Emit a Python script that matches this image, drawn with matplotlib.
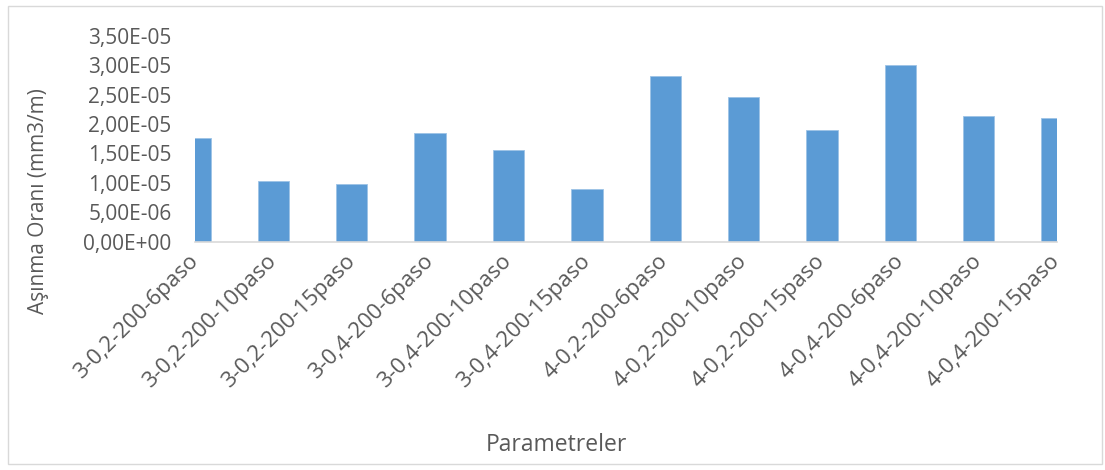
import numpy as np
import matplotlib.pyplot as plt
from matplotlib.ticker import FuncFormatter
from matplotlib.patches import Rectangle

plt.rcParams['font.family'] = ['Open Sans', 'DejaVu Sans']

categories = [
    "3-0,2-200-6paso", "3-0,2-200-10paso", "3-0,2-200-15paso",
    "3-0,4-200-6paso", "3-0,4-200-10paso", "3-0,4-200-15paso",
    "4-0,2-200-6paso", "4-0,2-200-10paso", "4-0,2-200-15paso",
    "4-0,4-200-6paso", "4-0,4-200-10paso", "4-0,4-200-15paso",
]
wear_rate = [1.77e-05, 1.03e-05, 0.98e-05, 1.84e-05, 1.56e-05, 0.90e-05,
             2.82e-05, 2.455e-05, 1.90e-05, 3.00e-05, 2.13e-05, 2.10e-05]
y_ticks = np.arange(0, 3.51e-05, 5e-06)

text_color = "#595959"
bar_color = "#5B9BD5"

fig = plt.figure(figsize=(11.05, 4.70), dpi=100)
ax = fig.add_axes([0.1765, 0.4857, 0.9566 - 0.1765, 0.924 - 0.4857])

x = np.arange(len(categories))
ax.bar(x, wear_rate, width=0.4, color=bar_color, edgecolor="#9DC3E6", linewidth=0.6)

ax.set_xlim(0, len(categories) - 1)
ax.set_ylim(0, 3.5e-05)
ax.set_yticks(y_ticks)
ax.yaxis.set_major_formatter(FuncFormatter(lambda v, p: f"{v:.2E}".replace(".", ",")))
ax.set_xticks(x)
ax.set_xticklabels(categories, rotation=45, ha="right", rotation_mode="anchor", va="center",
                   fontsize=16)

for s in ["top", "right", "left"]:
    ax.spines[s].set_visible(False)
ax.spines["bottom"].set_color("#D9D9D9")
ax.spines["bottom"].set_linewidth(1.2)
ax.tick_params(axis="both", length=0, colors=text_color)
ax.tick_params(axis="y", labelsize=15, pad=17)
ax.tick_params(axis="x", pad=12)

fig.text(0.035, 0.572, "Aşınma Oranı (mm3/m)", rotation=90, ha="center", va="center",
         fontsize=15, color=text_color)
fig.text(0.504, 0.053, "Parametreler", ha="center", va="center", fontsize=16.5, color=text_color)

fig.patches.append(Rectangle((0.007, 0.012), 0.99, 0.975, transform=fig.transFigure,
                             fill=False, edgecolor="#D9D9D9", linewidth=1))

fig.savefig("out.png", dpi=100)
